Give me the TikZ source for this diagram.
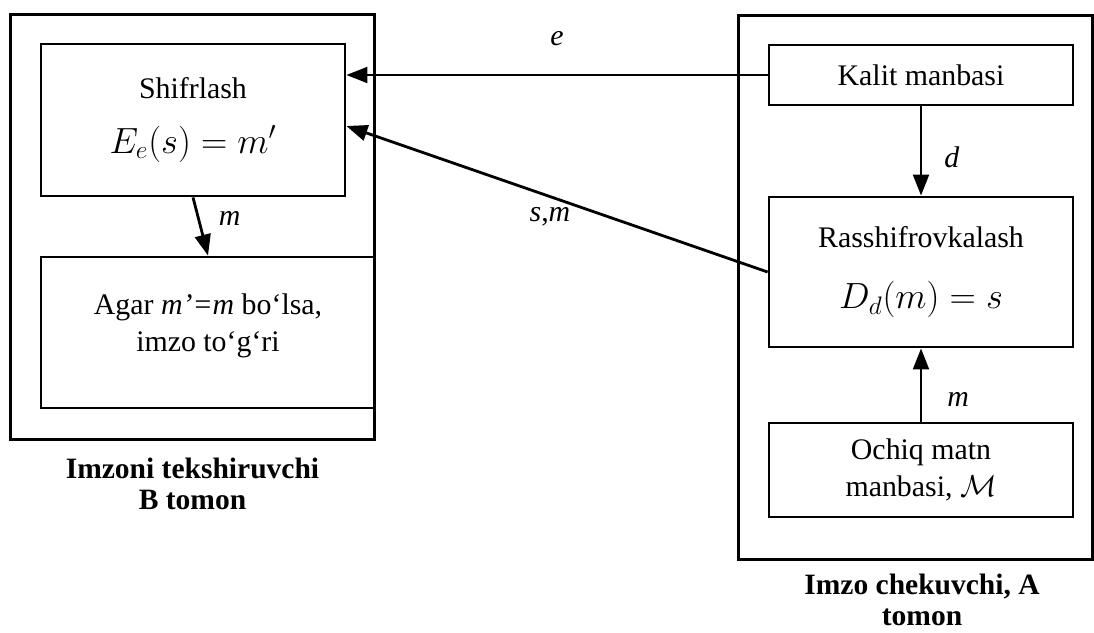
\documentclass[tikz,border=0pt]{standalone}
\usepackage{fontspec}
\setmainfont{Liberation Serif}
\usetikzlibrary{arrows.meta,positioning,calc}
\newcommand{\formula}[1]{{\fontsize{21}{21}\selectfont$#1$}}
\tikzset{
  blok/.style={draw, line width=1.6pt, align=center, inner sep=0pt},
  tomon/.style={draw, line width=1.7pt},
  oq/.style={-{Triangle[length=12pt,width=9pt]}, line width=1.6pt},
  yozuv/.style={font=\fontsize{16.8}{17.5}\selectfont\bfseries, align=center, inner sep=0pt},
  belgi/.style={inner sep=0pt}
}
\begin{document}
\begin{tikzpicture}[x=0.02cm, y=-0.02cm, font=\fontsize{17}{21}\selectfont]
  \useasboundingbox (0,0) rectangle (1094,632);
  % B tomon (tekshiruvchi)
  \node[tomon, minimum width=7.3cm, minimum height=8.52cm] (tekshir) at (192.5,227) {};
  \node[blok, minimum width=6.08cm, minimum height=3.04cm] (shifr) at (193,120)
    {Shifrlash\\[10pt]\formula{E_e(s)=m'}};
  \node[blok, minimum width=6.68cm, minimum height=3.02cm] (agar) at (208,332.5)
    {Agar \textit{m’=m} bo‘lsa,\\imzo to‘g‘ri\\[-10pt]\mbox{}};
  \node[yozuv, below=0.33cm of tekshir] (tekshirnomi) {Imzoni tekshiruvchi\\B tomon};
  % A tomon (imzo chekuvchi)
  \node[tomon, minimum width=7.1cm, minimum height=10.9cm] (chek) at (915.5,287.5) {};
  \node[blok, minimum width=6.08cm, minimum height=1.2cm] (kalit) at (921,75) {Kalit manbasi};
  \node[blok, minimum width=6.08cm, minimum height=3.0cm] (rass) at (921,272)
    {Rasshifrovkalash\\[14pt]\formula{D_d(m)=s}};
  \node[blok, minimum width=6.08cm, minimum height=1.88cm] (ochiq) at (921,470)
    {Ochiq matn\\manbasi, $\mathcal{M}$};
  \node[yozuv, below=0.24cm of chek, xshift=0.13cm] (cheknomi) {Imzo chekuvchi, A\\tomon};
  % ulanishlar
  \coordinate (shifrkirish) at ($(shifr.east)+(0,6)$);
  \draw[oq] (kalit.west) -- (kalit.west -| shifr.east)
    node[belgi, midway, above=0.56cm] {\textit{e}};
  \draw[oq] (rass.west) -- (shifrkirish)
    node[belgi, midway, below, xshift=-4pt, yshift=-4pt] {\textit{s},\textit{m}};
  \draw[oq] (shifr.south) -- (agar.north)
    node[belgi, pos=0.39, right=0.37cm, yshift=1pt] {\textit{m}};
  \draw[oq] (kalit.south) -- (rass.north)
    node[belgi, pos=0.57, right=0.44cm] {\textit{d}};
  \draw[oq] (ochiq.north) -- (rass.south)
    node[belgi, pos=0.3, right=0.5cm] {\textit{m}};
\end{tikzpicture}
\end{document}
